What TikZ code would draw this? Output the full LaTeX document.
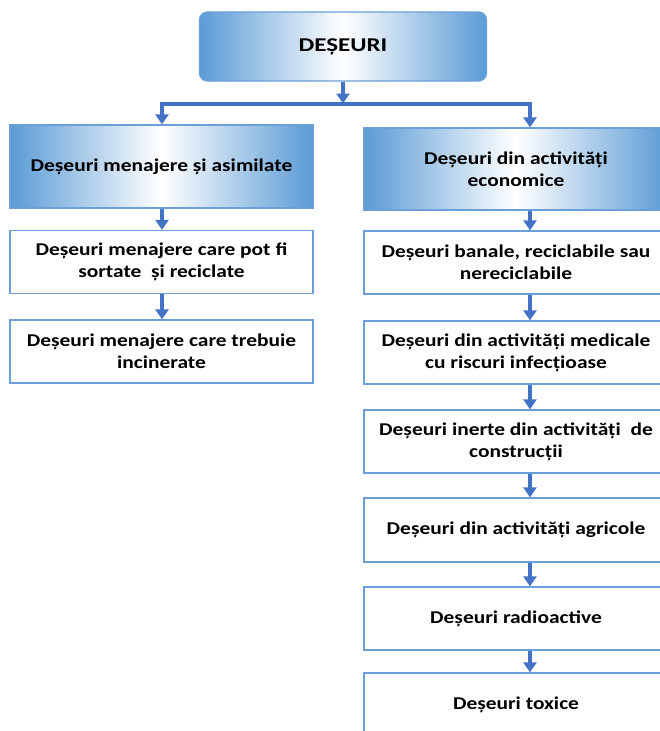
\documentclass[tikz,border=0pt]{standalone}
\usepackage{fontspec}
\setmainfont{Carlito}
\newfontfamily\bodyfont{Carlito}[FakeStretch=1.19]
\newfontfamily\titlefont{Carlito}[FakeStretch=1.28]
\usetikzlibrary{arrows.meta}
\definecolor{arrowblue}{HTML}{4472C4}
\definecolor{edgeblue}{HTML}{6A9FD8}
\definecolor{shadeblue}{HTML}{5B9BD5}
\tikzset{
  every node/.style={font=\bodyfont\fontsize{18}{22}\selectfont\bfseries, text=black, align=center, inner sep=2pt},
  topbox/.style={draw=edgeblue, line width=1.3pt, rounded corners=8pt, left color=shadeblue, right color=shadeblue, middle color=white, minimum width=287pt, minimum height=69pt},
  hdrbox/.style={draw=edgeblue, line width=1.3pt, left color=shadeblue, right color=shadeblue, middle color=white, minimum height=83pt},
  plainbox/.style={draw=edgeblue, line width=1.3pt, fill=white, minimum height=63pt},
  conn/.style={draw=arrowblue, line width=4pt},
  tipd/.tip={Triangle[width=13pt,length=10pt]}
}
\begin{document}
\begin{tikzpicture}[x=1pt,y=-1pt]
\useasboundingbox (0,0) rectangle (659,731);
\fill[white] (0,0) rectangle (659,731);
\coordinate (ax) at (530,0);
\coordinate (lx) at (162,0);
% top
\node[topbox, font=\titlefont\fontsize{19.5}{22}\selectfont\bfseries] (top) at (343,46.5) {DEȘEURI};
\coordinate (bar) at (343,103.5);
% headers
\node[hdrbox, minimum width=303pt] (hl) at (161.5,166.5) {Deșeuri menajere și asimilate};
\node[hdrbox, minimum width=304pt, minimum height=82pt] (hr) at (516,169) {Deșeuri din activități\\economice};
% left column
\node[plainbox, minimum width=303pt] (l1) at (161.5,262) {Deșeuri menajere care pot fi\\sortate\ \ și reciclate};
\node[plainbox, minimum width=303pt] (l2) at (161.5,351.5) {Deșeuri menajere care trebuie\\incinerate};
% right column
\node[plainbox, minimum width=304pt] (r1) at (516,262.5) {Deșeuri banale, reciclabile sau\\nereciclabile};
\node[plainbox, minimum width=304pt] (r2) at (516,352.5) {Deșeuri din activități medicale\\cu riscuri infecțioase};
\node[plainbox, minimum width=304pt] (r3) at (516,441.5) {Deșeuri inerte din activități\ \ de\\construcții};
\node[plainbox, minimum width=304pt, minimum height=64pt] (r4) at (516,530) {Deșeuri din activități agricole};
\node[plainbox, minimum width=304pt] (r5) at (516,618.5) {Deșeuri radioactive};
\node[plainbox, minimum width=304pt] (r6) at (516,704.5) {Deșeuri toxice};
% connectors
\draw[conn, -tipd] (top.south) -- (bar);
\draw[conn, tipd-tipd] (hl.north -| lx) |- (bar) -| (hr.north -| ax);
\draw[conn, -tipd] (hl.south -| lx) -- (l1.north -| lx);
\draw[conn, -tipd] (l1.south -| lx) -- (l2.north -| lx);
\draw[conn, -tipd] (hr.south -| ax) -- (r1.north -| ax);
\draw[conn, -tipd] (r1.south -| ax) -- (r2.north -| ax);
\draw[conn, -tipd] (r2.south -| ax) -- (r3.north -| ax);
\draw[conn, -tipd] (r3.south -| ax) -- (r4.north -| ax);
\draw[conn, -tipd] (r4.south -| ax) -- (r5.north -| ax);
\draw[conn, -tipd] (r5.south -| ax) -- (r6.north -| ax);
\end{tikzpicture}
\end{document}
